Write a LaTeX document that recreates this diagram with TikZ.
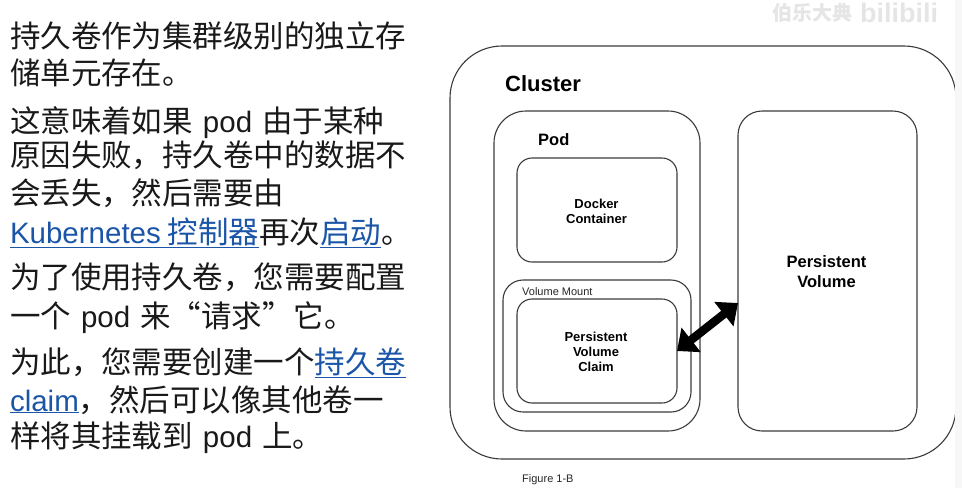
\documentclass[tikz,border=0pt]{standalone}
\usepackage{fontspec}
\setmainfont{Liberation Sans}
\newfontfamily\cjk{Noto Sans CJK SC}
\usetikzlibrary{arrows.meta}
\definecolor{linkblue}{HTML}{1A55A8}
\definecolor{boxline}{HTML}{3A3A3A}
\newcommand{\lat}[1]{{\rmfamily\fontsize{29.5}{36}\selectfont #1}}
\newcommand{\gap}{\hspace{10pt}}
\newcommand{\linkzh}[1]{\textcolor{linkblue}{\underline{#1}}}
\tikzset{
	bodyline/.style={anchor=base west,inner sep=0pt,outer sep=0pt,text=black!90,font=\cjk\fontsize{30.5}{36}\selectfont},
	box/.style={draw=boxline,line width=1.1pt,rectangle,outer sep=0pt,inner sep=0pt},
	boxtext/.style={text=black,align=center,font=\bfseries\fontsize{13}{15}\selectfont},
	smalltext/.style={text=black!85,inner sep=0pt,anchor=base west,font=\fontsize{11}{13}\selectfont}
}
\begin{document}
\begin{tikzpicture}[x=1pt,y=-1pt]
	\useasboundingbox (0,0) rectangle (962,488);

	\node[bodyline] (line_a) at (10,47) {持久卷作为集群级别的独立存};
	\node[bodyline] (line_b) at (10,84) {储单元存在。};
	\node[bodyline] (line_c) at (10,132) {这意味着如果\gap\lat{pod}\gap 由于某种};
	\node[bodyline] (line_d) at (10,166) {原因失败，持久卷中的数据不};
	\node[bodyline] (line_e) at (10,204) {会丢失，然后需要由};
	\node[bodyline] (line_f) at (10,243) {\linkzh{\lat{Kubernetes} 控制器}再次\linkzh{启动}。};
	\node[bodyline] (line_g) at (10,288) {为了使用持久卷，您需要配置};
	\node[bodyline] (line_h) at (10,327) {一个\gap\lat{pod}\gap 来“请求”\hspace{1pt}它。};
	\node[bodyline] (line_i) at (10,373) {为此，您需要创建一个\linkzh{持久卷}};
	\node[bodyline] (line_j) at (10,411) {\linkzh{\lat{claim}}，然后可以像其他卷一};
	\node[bodyline] (line_k) at (10,447) {样将其挂载到\gap\lat{pod}\gap 上。};

	\node[text=black!10,inner sep=0pt,font=\cjk\bfseries\fontsize{20}{20}\selectfont] (mark_a) at (812,13) {伯乐大典};
	\node[text=black!10,inner sep=0pt,font=\bfseries\fontsize{27}{27}\selectfont] (mark_b) at (899,13) {bilibili};

	\begin{scope}[every node/.style={box}]
		\node[minimum width=506pt,minimum height=413pt,rounded corners=52pt] (cluster) at (703,252.5) {};
		\node[minimum width=206pt,minimum height=320pt,rounded corners=32pt] (pod) at (597,271) {};
		\node[minimum width=160pt,minimum height=104pt,rounded corners=15pt] (docker) at (597,210) {};
		\node[minimum width=188pt,minimum height=132pt,rounded corners=20pt] (mount) at (597,346) {};
		\node[minimum width=160pt,minimum height=104pt,rounded corners=15pt] (pvc) at (597,351) {};
		\node[minimum width=179pt,minimum height=320pt,rounded corners=24pt] (pv) at (827.5,271) {};
	\end{scope}

	\fill[black!3] (955,0) rectangle (962,488);

	\node[anchor=base west,inner sep=0pt,font=\bfseries\fontsize{22}{24}\selectfont] (cluster_t) at (505,91) {Cluster};
	\node[anchor=base west,inner sep=0pt,font=\bfseries\fontsize{16.5}{20}\selectfont] (pod_t) at (538,145) {Pod};
	\node[boxtext] at ([xshift=-.5pt,yshift=-1pt]docker.center) {Docker\\Container};
	\node[boxtext] at ([xshift=-1pt,yshift=-1pt]pvc.center) {Persistent\\Volume\\Claim};
	\node[boxtext,font=\bfseries\fontsize{16.5}{20}\selectfont] at ([xshift=-1pt,yshift=-1pt]pv.center) {Persistent\\Volume};
	\node[smalltext] (mount_t) at (522,295) {Volume Mount};
	\node[smalltext] (figure_t) at (522,482) {Figure 1-B};

	\coordinate (pv_port) at ([yshift=-32pt]pv.west);
	\draw[line width=8.5pt,{Triangle[length=18pt,width=30pt]}-{Triangle[length=18pt,width=30pt]}] (pvc.east) -- (pv_port);

\end{tikzpicture}
\end{document}
